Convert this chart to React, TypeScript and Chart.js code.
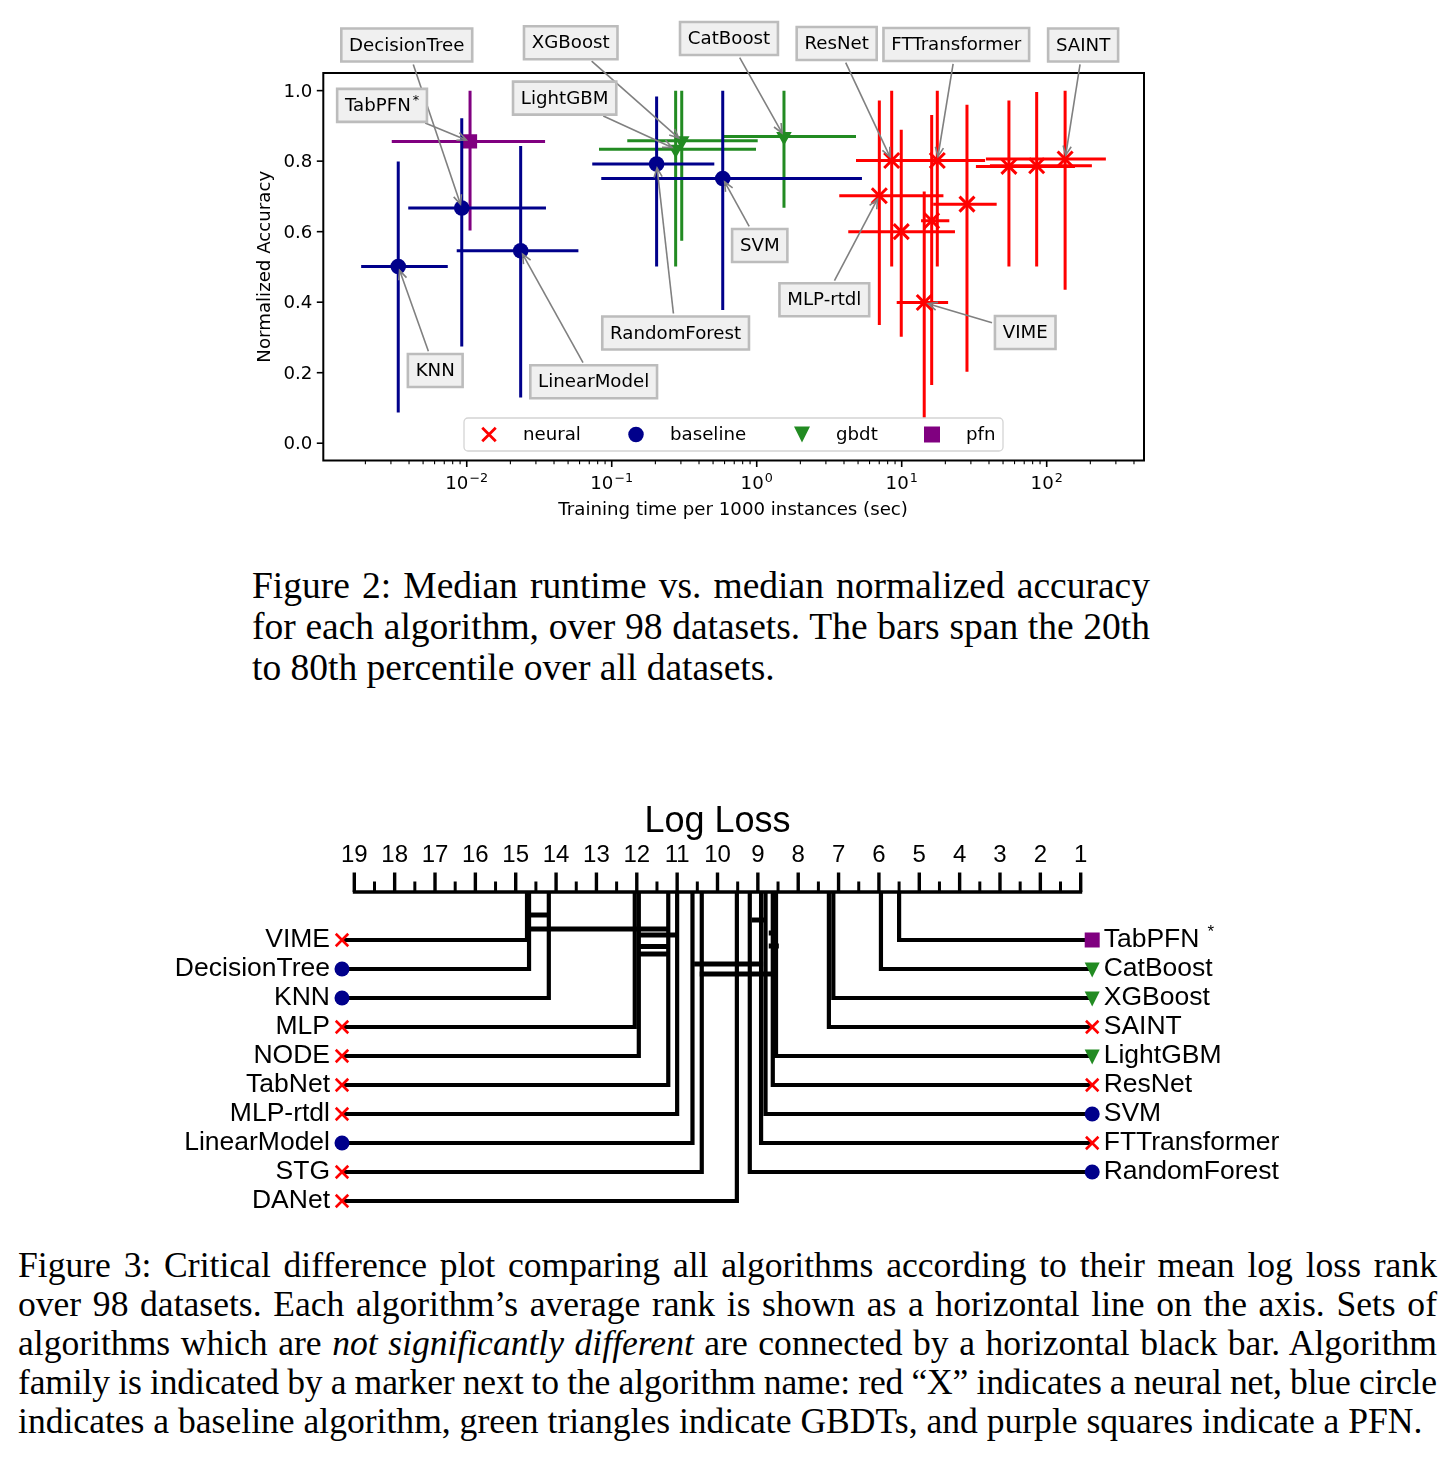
import React, { useEffect, useRef } from 'react';
import { Chart, registerables } from 'chart.js';

Chart.register(...registerables);

// ================= Figure 2 data =================
const algorithms = ['KNN', 'DecisionTree', 'TabPFN', 'LinearModel', 'RandomForest', 'SVM', 'XGBoost', 'LightGBM', 'CatBoost', 'ResNet', 'FTTransformer', 'SAINT', 'MLP-rtdl', 'VIME', 'MLP', 'TabNet', 'NODE', 'STG', 'DANet'];
const families = ['baseline', 'baseline', 'pfn', 'baseline', 'baseline', 'baseline', 'gbdt', 'gbdt', 'gbdt', 'neural', 'neural', 'neural', 'neural', 'neural', 'neural', 'neural', 'neural', 'neural', 'neural'];
const runtimeMedian = [0.00337, 0.00924, 0.01054, 0.02355, 0.204, 0.583, 0.304, 0.276, 1.542, 8.53, 17.6, 134, 7.01, 14.3, 9.93, 16.1, 28.2, 54.9, 85.3];
const runtimeP20 = [0.00187, 0.00395, 0.00304, 0.00853, 0.0734, 0.0847, 0.128, 0.0817, 0.592, 4.84, 7.08, 38.1, 3.71, 9.24, 4.28, 13.6, 16.5, 32.5, 40.6];
const runtimeP80 = [0.0074, 0.0352, 0.0347, 0.0589, 0.51, 5.32, 1.016, 0.989, 4.84, 23.3, 37.6, 256, 19.4, 20.9, 23.3, 21.3, 45.2, 156.7, 205];
const accuracyMedian = [0.501, 0.667, 0.856, 0.546, 0.792, 0.751, 0.858, 0.834, 0.87, 0.802, 0.802, 0.806, 0.702, 0.399, 0.6, 0.631, 0.678, 0.785, 0.787];
const accuracyP20 = [0.087, 0.274, 0.603, 0.13, 0.501, 0.378, 0.574, 0.501, 0.668, 0.501, 0.501, 0.435, 0.335, 0.071, 0.302, 0.165, 0.203, 0.501, 0.501];
const accuracyP80 = [0.799, 0.922, 1.0, 0.843, 0.983, 1.0, 1.0, 1.0, 1.0, 1.0, 1.0, 1.0, 0.972, 0.714, 0.889, 0.931, 0.96, 0.972, 0.996];

const yTickValues = [0.0, 0.2, 0.4, 0.6, 0.8, 1.0];
const xDecadeExponents = [-2, -1, 0, 1, 2];
const legendFamilies = ['neural', 'baseline', 'gbdt', 'pfn'];

const annotatedNames = ['DecisionTree', 'XGBoost', 'CatBoost', 'ResNet', 'FTTransformer', 'SAINT', 'TabPFN', 'LightGBM', 'SVM', 'MLP-rtdl', 'RandomForest', 'VIME', 'KNN', 'LinearModel'];
// label offsets from the annotated point, in pixels (layout only)
const annotationOffsets = [[-55, -163], [-111, -98], [-55, -98], [-55, -117], [19, -116], [18, -114], [-88, -36], [-111, -51], [37, 67], [-55, 104], [19, 169], [101, 30], [37, 104], [73, 131]];

// ================= Figure 3 data =================
const cdAlgorithms = ['TabPFN', 'CatBoost', 'XGBoost', 'SAINT', 'LightGBM', 'ResNet', 'SVM', 'FTTransformer', 'RandomForest', 'DANet', 'STG', 'LinearModel', 'MLP-rtdl', 'TabNet', 'NODE', 'MLP', 'KNN', 'DecisionTree', 'VIME'];
const cdFamilies = ['pfn', 'gbdt', 'gbdt', 'neural', 'gbdt', 'neural', 'baseline', 'neural', 'baseline', 'neural', 'neural', 'baseline', 'neural', 'neural', 'neural', 'neural', 'baseline', 'baseline', 'neural'];
const cdMeanRanks = [5.5, 5.95, 7.13, 7.24, 8.55, 8.63, 8.81, 8.92, 9.2, 9.52, 10.39, 10.62, 11.0, 11.22, 11.95, 12.05, 14.18, 14.67, 14.72];
const rankTickLabels = [19, 18, 17, 16, 15, 14, 13, 12, 11, 10, 9, 8, 7, 6, 5, 4, 3, 2, 1];
const cliqueFrom = [14.65, 14.65, 11.92, 11.92, 11.92, 9.15, 8.73, 8.73, 10.58, 10.44];
const cliqueTo = [14.15, 11.25, 11.0, 11.25, 11.25, 8.78, 8.53, 8.48, 8.87, 8.53];
// depth of each clique bar below the rank axis, pixels (layout only)
const cliqueDepth = [23, 37, 43, 54.5, 62, 28, 41, 54, 72, 82];

const COLORS: Record<string, string> = { neural: '#ff0000', baseline: '#00008b', gbdt: '#228b22', pfn: '#800080' };
const PLOT_FONT = '"DejaVu Sans", Verdana, sans-serif';
const CD_FONT = '"Liberation Sans", Arial, Helvetica, sans-serif';
const SERIF = '"Liberation Serif", "Times New Roman", Times, serif';

function drawMarker(ctx: CanvasRenderingContext2D, fam: string, x: number, y: number, s: number, lw = 2.6) {
  ctx.save();
  const c = COLORS[fam];
  ctx.fillStyle = c;
  ctx.strokeStyle = c;
  ctx.beginPath();
  if (fam === 'neural') {
    ctx.lineWidth = lw;
    ctx.moveTo(x - s / 2, y - s / 2);
    ctx.lineTo(x + s / 2, y + s / 2);
    ctx.moveTo(x + s / 2, y - s / 2);
    ctx.lineTo(x - s / 2, y + s / 2);
    ctx.stroke();
  } else if (fam === 'baseline') {
    ctx.arc(x, y, s / 2, 0, Math.PI * 2);
    ctx.fill();
  } else if (fam === 'gbdt') {
    ctx.moveTo(x - s / 2, y - s / 2);
    ctx.lineTo(x + s / 2, y - s / 2);
    ctx.lineTo(x, y + s / 2);
    ctx.closePath();
    ctx.fill();
  } else {
    ctx.rect(x - s / 2, y - s / 2, s, s);
    ctx.fill();
  }
  ctx.restore();
}

const POINT_STYLE: Record<string, any> = {
  neural: { pointStyle: 'crossRot', pointRadius: 10.6, borderWidth: 3, rotation: 0 },
  baseline: { pointStyle: 'circle', pointRadius: 7.8, borderWidth: 0, rotation: 0 },
  gbdt: { pointStyle: 'triangle', pointRadius: 9, borderWidth: 0, rotation: 180 },
  pfn: { pointStyle: 'rect', pointRadius: 10, borderWidth: 0, rotation: 0 },
};

const errorBarPlugin = {
  id: 'errorBars',
  beforeDatasetDraw(chart: any, args: any) {
    const { ctx } = chart;
    const xs = chart.scales.x;
    const ys = chart.scales.y;
    const ds = chart.data.datasets[args.index];
    ctx.save();
    ctx.strokeStyle = ds.borderColor;
    ctx.lineWidth = 3;
    ctx.lineCap = 'butt';
    ds.data.forEach((p: any) => {
      const i = p.idx;
      const px = xs.getPixelForValue(runtimeMedian[i]);
      const py = ys.getPixelForValue(accuracyMedian[i]);
      ctx.beginPath();
      ctx.moveTo(xs.getPixelForValue(runtimeP20[i]), py);
      ctx.lineTo(xs.getPixelForValue(runtimeP80[i]), py);
      ctx.moveTo(px, ys.getPixelForValue(accuracyP20[i]));
      ctx.lineTo(px, ys.getPixelForValue(accuracyP80[i]));
      ctx.stroke();
    });
    ctx.restore();
  },
};

function drawArrow(ctx: CanvasRenderingContext2D, x1: number, y1: number, x2: number, y2: number) {
  ctx.beginPath();
  ctx.moveTo(x1, y1);
  ctx.lineTo(x2, y2);
  ctx.stroke();
  const ang = Math.atan2(y2 - y1, x2 - x1);
  const L = 10;
  const a = 0.42;
  ctx.beginPath();
  ctx.moveTo(x2 - L * Math.cos(ang - a), y2 - L * Math.sin(ang - a));
  ctx.lineTo(x2, y2);
  ctx.lineTo(x2 - L * Math.cos(ang + a), y2 - L * Math.sin(ang + a));
  ctx.stroke();
}

const FS = 18.2;

const axesPlugin = {
  id: 'axesDecor',
  afterDraw(chart: any) {
    const { ctx, chartArea } = chart;
    const xs = chart.scales.x;
    const ys = chart.scales.y;
    const { left, right, top, bottom } = chartArea;
    ctx.save();
    // frame
    ctx.strokeStyle = '#000';
    ctx.lineWidth = 2;
    ctx.strokeRect(left, top, right - left, bottom - top);
    ctx.fillStyle = '#000';
    // y ticks
    ctx.font = `${FS}px ${PLOT_FONT}`;
    ctx.textAlign = 'right';
    ctx.textBaseline = 'middle';
    yTickValues.forEach((v) => {
      const py = ys.getPixelForValue(v);
      ctx.lineWidth = 1.6;
      ctx.beginPath();
      ctx.moveTo(left - 6.5, py);
      ctx.lineTo(left, py);
      ctx.stroke();
      ctx.fillText(v.toFixed(1), left - 11, py + 1.5);
    });
    // x ticks (log)
    for (let e = -4; e <= 3; e++) {
      for (let m = 1; m <= 9; m++) {
        const v = m * Math.pow(10, e);
        if (v < xs.min || v > xs.max) continue;
        const px = xs.getPixelForValue(v);
        const major = m === 1;
        ctx.lineWidth = major ? 1.6 : 1.1;
        ctx.beginPath();
        ctx.moveTo(px, bottom);
        ctx.lineTo(px, bottom + (major ? 6.5 : 3.7));
        ctx.stroke();
      }
    }
    xDecadeExponents.forEach((e) => {
      const px = xs.getPixelForValue(Math.pow(10, e));
      const base = '10';
      const expo = e < 0 ? '\u2212' + Math.abs(e) : String(e);
      ctx.font = `${FS}px ${PLOT_FONT}`;
      const w1 = ctx.measureText(base).width;
      ctx.font = `${FS * 0.7}px ${PLOT_FONT}`;
      const w2 = ctx.measureText(expo).width;
      const x0 = px - (w1 + w2 + 1) / 2;
      ctx.textAlign = 'left';
      ctx.textBaseline = 'alphabetic';
      ctx.font = `${FS}px ${PLOT_FONT}`;
      ctx.fillText(base, x0, bottom + 28);
      ctx.font = `${FS * 0.7}px ${PLOT_FONT}`;
      ctx.fillText(expo, x0 + w1 + 1, bottom + 21.5);
    });
    // axis labels
    ctx.font = `${FS}px ${PLOT_FONT}`;
    ctx.textAlign = 'center';
    ctx.textBaseline = 'middle';
    ctx.fillText('Training time per 1000 instances (sec)', (left + right) / 2 - 0.5, bottom + 49.5);
    ctx.save();
    ctx.translate(left - 58, (top + bottom) / 2 + 0);
    ctx.rotate(-Math.PI / 2);
    ctx.fillText('Normalized Accuracy', 0, 0);
    ctx.restore();

    // legend
    const lgL = 464, lgT = 418, lgW = 539, lgH = 33;
    ctx.save();
    ctx.fillStyle = 'rgba(255,255,255,0.8)';
    ctx.strokeStyle = '#d4d4d4';
    ctx.lineWidth = 1.3;
    ctx.beginPath();
    (ctx as any).roundRect(lgL, lgT, lgW, lgH, 4);
    ctx.fill();
    ctx.stroke();
    ctx.restore();
    const markerX = [489, 636, 802, 932];
    const textX = [523, 670, 836, 966];
    legendFamilies.forEach((f, k) => {
      const cy = lgT + lgH / 2;
      const s = f === 'neural' ? 13.5 : f === 'baseline' ? 15.5 : 16;
      drawMarker(ctx, f, markerX[k], cy, s, 2.8);
      ctx.fillStyle = '#000';
      ctx.font = `${FS}px ${PLOT_FONT}`;
      ctx.textAlign = 'left';
      ctx.textBaseline = 'middle';
      ctx.fillText(f, textX[k], cy + 1);
    });

    // annotations
    annotatedNames.forEach((name, k) => {
      const i = algorithms.indexOf(name);
      const px = xs.getPixelForValue(runtimeMedian[i]);
      const py = ys.getPixelForValue(accuracyMedian[i]);
      const cx = px + annotationOffsets[k][0];
      const cy = py + annotationOffsets[k][1];
      ctx.font = `${FS}px ${PLOT_FONT}`;
      let w = ctx.measureText(name).width;
      const star = name === 'TabPFN';
      let ws = 0;
      if (star) {
        ctx.font = `${FS * 0.7}px ${PLOT_FONT}`;
        ws = ctx.measureText('*').width + 2;
        w += ws;
      }
      const pad = 7.8;
      const bw = w + 2 * pad;
      const bh = 33;
      // arrow
      const dx = px - cx, dy = py - cy;
      const len = Math.hypot(dx, dy);
      const ux = dx / len, uy = dy / len;
      const t = Math.min(bw / 2 / Math.abs(dx || 1e-9), bh / 2 / Math.abs(dy || 1e-9));
      const sx = cx + dx * t + ux * 3;
      const sy = cy + dy * t + uy * 3;
      const ex = px - ux * 4;
      const ey = py - uy * 4;
      ctx.strokeStyle = '#808080';
      ctx.lineWidth = 1.6;
      drawArrow(ctx, sx, sy, ex, ey);
      // box
      ctx.fillStyle = '#f0f0f0';
      ctx.strokeStyle = '#bcbcbc';
      ctx.lineWidth = 2.6;
      ctx.beginPath();
      ctx.rect(cx - bw / 2, cy - bh / 2, bw, bh);
      ctx.fill();
      ctx.stroke();
      ctx.fillStyle = '#000';
      ctx.textAlign = 'left';
      ctx.textBaseline = 'middle';
      ctx.font = `${FS}px ${PLOT_FONT}`;
      ctx.fillText(name, cx - w / 2, cy + 1);
      if (star) {
        const wn = w - ws;
        ctx.font = `${FS * 0.7}px ${PLOT_FONT}`;
        ctx.fillText('*', cx - w / 2 + wn + 2, cy - 5);
      }
    });
    ctx.restore();
  },
};

function RuntimeChart() {
  const ref = useRef<HTMLCanvasElement>(null);
  useEffect(() => {
    const canvas = ref.current;
    if (!canvas) return;
    const order = ['baseline', 'gbdt', 'neural', 'pfn'];
    const datasets = order.map((f) => ({
      label: f,
      data: algorithms
        .map((_, i) => i)
        .filter((i) => families[i] === f)
        .map((i) => ({ x: runtimeMedian[i], y: accuracyMedian[i], idx: i })),
      backgroundColor: COLORS[f],
      borderColor: COLORS[f],
      ...POINT_STYLE[f],
    }));
    const W = 1452, H = 540;
    const chart = new Chart(canvas, {
      type: 'scatter',
      data: { datasets: datasets as any },
      options: {
        responsive: false,
        animation: false,
        events: [],
        layout: { padding: { left: 323.3, right: W - 1144, top: 73, bottom: H - 460.5 } },
        plugins: { legend: { display: false }, tooltip: { enabled: false } },
        scales: {
          x: { type: 'logarithmic', display: false, min: 0.001025, max: 469, bounds: 'data' } as any,
          y: { type: 'linear', display: false, min: -0.049, max: 1.05, bounds: 'data' } as any,
        },
      },
      plugins: [errorBarPlugin, axesPlugin],
    });
    return () => chart.destroy();
  }, []);
  return <canvas ref={ref} width={1452} height={540} style={{ position: 'absolute', left: 0, top: 0, width: 1452, height: 540 }} />;
}

const cdPlugin = {
  id: 'cdDraw',
  afterDraw(chart: any) {
    const { ctx, chartArea } = chart;
    const xs = chart.scales.x;
    const ys = chart.scales.y;
    const axisY = chartArea.top;
    const x19 = xs.getPixelForValue(19);
    const x1 = xs.getPixelForValue(1);
    ctx.save();
    ctx.fillStyle = '#000';
    ctx.strokeStyle = '#000';
    // title
    ctx.font = `36px ${CD_FONT}`;
    ctx.textAlign = 'center';
    ctx.textBaseline = 'middle';
    ctx.fillText('Log Loss', (x19 + x1) / 2, axisY - 70);
    // axis & ticks
    ctx.lineWidth = 3.5;
    ctx.beginPath();
    ctx.moveTo(x19 - 1.5, axisY);
    ctx.lineTo(x1 + 1.5, axisY);
    ctx.stroke();
    for (let r = 1; r <= 19.001; r += 0.5) {
      const px = xs.getPixelForValue(r);
      const major = Math.abs(r - Math.round(r)) < 1e-6;
      ctx.lineWidth = major ? 3.4 : 3;
      ctx.beginPath();
      ctx.moveTo(px, axisY);
      ctx.lineTo(px, axisY - (major ? 19.5 : 10.5));
      ctx.stroke();
    }
    ctx.font = `24px ${CD_FONT}`;
    rankTickLabels.forEach((r) => {
      ctx.fillText(String(r), xs.getPixelForValue(r), axisY - 37);
    });

    const n = cdAlgorithms.length;
    const nRight = Math.floor(n / 2);
    const leftMarkerX = x19 - 12.3;
    const rightMarkerX = x1 + 11.5;
    // lines
    ctx.lineWidth = 4.2;
    ctx.lineJoin = 'miter';
    ctx.lineCap = 'butt';
    for (let k = 0; k < n; k++) {
      const right = k < nRight;
      const row = right ? k : n - 1 - k;
      const px = xs.getPixelForValue(cdMeanRanks[k]);
      const py = ys.getPixelForValue(row);
      ctx.beginPath();
      ctx.moveTo(px, axisY);
      ctx.lineTo(px, py);
      ctx.lineTo(right ? rightMarkerX : leftMarkerX, py);
      ctx.stroke();
    }
    // cliques
    ctx.lineWidth = 5;
    cliqueFrom.forEach((a, k) => {
      const y = axisY + cliqueDepth[k];
      ctx.beginPath();
      ctx.moveTo(xs.getPixelForValue(a), y);
      ctx.lineTo(xs.getPixelForValue(cliqueTo[k]), y);
      ctx.stroke();
    });
    // markers & labels
    for (let k = 0; k < n; k++) {
      const right = k < nRight;
      const row = right ? k : n - 1 - k;
      const py = ys.getPixelForValue(row);
      const fam = cdFamilies[k];
      const mx = right ? rightMarkerX : leftMarkerX;
      const s = fam === 'neural' ? 12.5 : 15;
      drawMarker(ctx, fam, mx, py + (fam === 'gbdt' ? 1 : 0), s, 2.6);
      ctx.fillStyle = '#000';
      ctx.font = `26.5px ${CD_FONT}`;
      ctx.textBaseline = 'middle';
      const name = cdAlgorithms[k];
      if (right) {
        ctx.textAlign = 'left';
        ctx.fillText(name, mx + 11.5, py);
        if (name === 'TabPFN') {
          const w = ctx.measureText(name).width;
          ctx.font = `17px ${CD_FONT}`;
          ctx.fillText('*', mx + 11.5 + w + 8, py - 8);
        }
      } else {
        ctx.textAlign = 'right';
        ctx.fillText(name, mx - 12, py);
      }
    }
    ctx.restore();
  },
};

function CDChart() {
  const ref = useRef<HTMLCanvasElement>(null);
  useEffect(() => {
    const canvas = ref.current;
    if (!canvas) return;
    const W = 1452, H = 460;
    const chart = new Chart(canvas, {
      type: 'scatter',
      data: { datasets: [{ data: cdMeanRanks.map((r) => ({ x: r, y: -1.655 })), pointRadius: 0 }] },
      options: {
        responsive: false,
        animation: false,
        events: [],
        layout: { padding: { left: 354.3, right: W - 1080.7, top: 112, bottom: H - 421 } },
        plugins: { legend: { display: false }, tooltip: { enabled: false } },
        scales: {
          x: { type: 'linear', display: false, reverse: true, min: 1, max: 19, bounds: 'data' } as any,
          y: { type: 'linear', display: false, reverse: true, min: -1.655, max: 9, bounds: 'data' } as any,
        },
      },
      plugins: [cdPlugin],
    });
    return () => chart.destroy();
  }, []);
  return <canvas ref={ref} width={1452} height={460} style={{ position: 'absolute', left: 0, top: 780, width: 1452, height: 460 }} />;
}

const J: React.CSSProperties = { textAlign: 'justify', textAlignLast: 'justify' as any, whiteSpace: 'nowrap' };

export default function App() {
  return (
    <div style={{ position: 'absolute', left: 0, top: 0, width: 1452, height: 1457, background: '#fff', overflow: 'hidden' }}>
      <RuntimeChart />
      <div style={{ position: 'absolute', left: 252, top: 565, width: 898, fontFamily: SERIF, fontSize: 37.5, lineHeight: '41px', color: '#000' }}>
        <div style={J}>Figure 2: Median runtime vs. median normalized accuracy</div>
        <div style={J}>for each algorithm, over 98 datasets. The bars span the 20th</div>
        <div style={{ whiteSpace: 'nowrap' }}>to 80th percentile over all datasets.</div>
      </div>
      <CDChart />
      <div style={{ position: 'absolute', left: 18, top: 1246, width: 1419, fontFamily: SERIF, fontSize: 35.6, lineHeight: '39px', color: '#000' }}>
        <div style={{ ...J, wordSpacing: '-2.5px' }}>Figure 3: Critical difference plot comparing all algorithms according to their mean log loss rank</div>
        <div style={{ ...J, wordSpacing: '-2.5px' }}>over 98 datasets. Each algorithm’s average rank is shown as a horizontal line on the axis. Sets of</div>
        <div style={{ ...J, wordSpacing: '-2.5px' }}>algorithms which are <i>not significantly different</i> are connected by a horizontal black bar. Algorithm</div>
        <div style={{ ...J, wordSpacing: '-3.5px', letterSpacing: '-0.15px' }}>family is indicated by a marker next to the algorithm name: red “X” indicates a neural net, blue circle</div>
        <div style={{ whiteSpace: 'nowrap' }}>indicates a baseline algorithm, green triangles indicate GBDTs, and purple squares indicate a PFN.</div>
      </div>
    </div>
  );
}
